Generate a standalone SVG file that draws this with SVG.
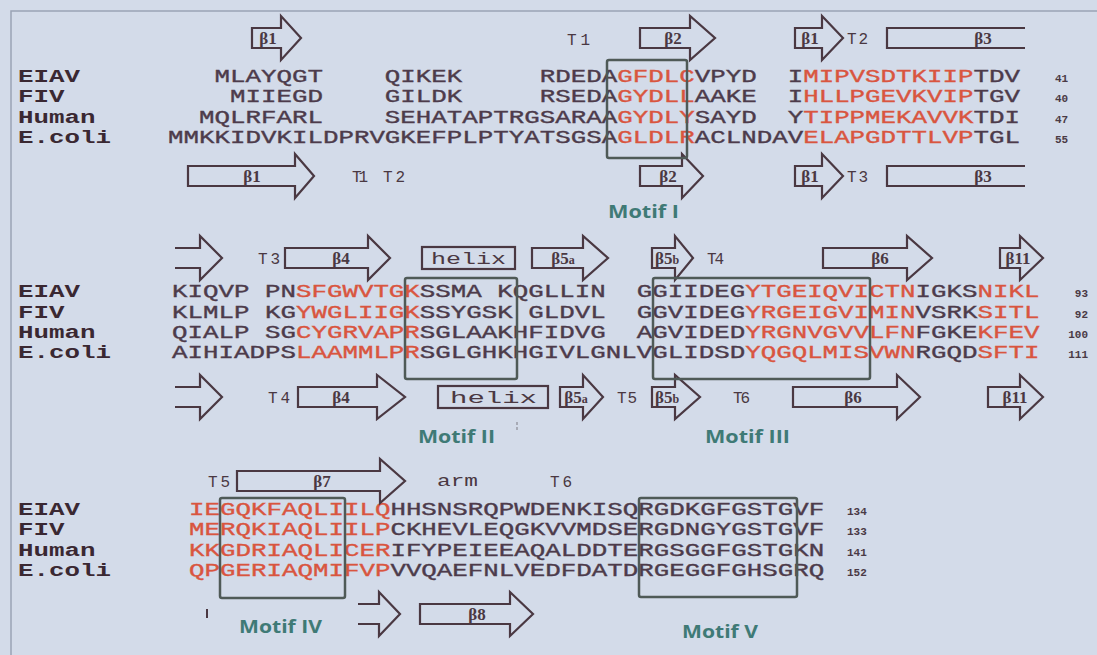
<svg xmlns="http://www.w3.org/2000/svg" width="1097" height="655" viewBox="0 0 1097 655">
<style>
.seq{font-family:"Liberation Mono","DejaVu Sans Mono",monospace;font-size:17.5px;fill:#4d3b4b;stroke:#4d3b4b;stroke-width:0.35}
.r{fill:#d9553f;stroke:#d9553f}
.lab{font-family:"Liberation Mono","DejaVu Sans Mono",monospace;font-weight:bold;font-size:17.5px;fill:#3a2832}
.num{font-family:"Liberation Mono","DejaVu Sans Mono",monospace;font-weight:bold;font-size:11px;fill:#4a3a45}
.ss{fill:none;stroke:#4a3842;stroke-width:2.2}
.bl{font-family:"Liberation Serif","DejaVu Serif",serif;font-weight:bold;font-size:17px;fill:#4a3842;text-anchor:middle}
.t{font-family:"Liberation Mono","DejaVu Sans Mono",monospace;font-size:16px;fill:#4a3842}
.box{fill:none;stroke:#4f5a57;stroke-width:2.5}
.motif{font-family:"Open Sans","Liberation Sans",sans-serif;font-weight:700;font-size:18px;fill:#3f7a76}
</style>
<rect width="1097" height="655" fill="#d3dbe9"/>
<path d="M11 655 V11 H1097" fill="none" stroke="#9ba4b5" stroke-width="1.5"/>

<g id="row-labels">
<g class="lab" transform="translate(18 0) scale(1.47619 1)">
<text y="82">EIAV</text><text y="102">FIV</text><text y="123">Human</text><text y="143">E.coli</text>
<text y="297">EIAV</text><text y="318">FIV</text><text y="338">Human</text><text y="358">E.coli</text>
<text y="515">EIAV</text><text y="535">FIV</text><text y="556">Human</text><text y="576">E.coli</text>
</g>
</g>

<g id="block1">
<g class="seq" transform="translate(168 0) scale(1.47619 1)">
<text xml:space="preserve" y="82">   MLAYQGT    QIKEK     RDEDA<tspan class="r">GFDLC</tspan>VPYD  I<tspan class="r">MIPVSDTKIIP</tspan>TDV</text>
<text xml:space="preserve" y="102">    MIIEGD    GILDK     RSEDA<tspan class="r">GYDLL</tspan>AAKE  I<tspan class="r">HLLPGEVKVIP</tspan>TGV</text>
<text xml:space="preserve" y="123">  MQLRFARL    SEHATAPTRGSARAA<tspan class="r">GYDLY</tspan>SAYD  Y<tspan class="r">TIPPMEKAVVK</tspan>TDI</text>
<text y="143">MMKKIDVKILDPRVGKEFPLPTYATSGSA<tspan class="r">GLDLR</tspan>ACLNDAV<tspan class="r">ELAPGDTTLVP</tspan>TGL</text>
</g>
<g class="num"><text x="1055" y="82">41</text><text x="1055" y="102">40</text><text x="1055" y="123">47</text><text x="1055" y="143">55</text></g>
<g id="ss1-top">
<path class="ss" d="M252 28 H281 V16 L301 38 L281 60 V48 H252 Z"/><text class="bl" x="268" y="44">β1</text>
<text class="t" x="567" y="45" textLength="23">T1</text>
<path class="ss" d="M640 28 H690 V16 L715 38 L690 60 V48 H640 Z"/><text class="bl" x="673" y="44">β2</text>
<path class="ss" d="M795 28 H822 V16 L843 38 L822 60 V48 H795 Z"/><text class="bl" x="810" y="44">β1</text>
<text class="t" x="847" y="44" textLength="21">T2</text>
<path class="ss" d="M1025 28 H887 V48 H1025"/><text class="bl" x="983" y="44">β3</text>
</g>
<g id="ss1-bottom">
<path class="ss" d="M188 166 H295 V154 L314 176 L295 198 V186 H188 Z"/><text class="bl" x="252" y="182">β1</text>
<text class="t" x="352" y="182" textLength="16">T1</text>
<text class="t" x="383" y="182" textLength="22">T2</text>
<path class="ss" d="M640 166 H682 V154 L703 176 L682 198 V186 H640 Z"/><text class="bl" x="668" y="182">β2</text>
<path class="ss" d="M795 166 H822 V154 L843 176 L822 198 V186 H795 Z"/><text class="bl" x="810" y="182">β1</text>
<text class="t" x="847" y="182" textLength="21">T3</text>
<path class="ss" d="M1025 166 H887 V186 H1025"/><text class="bl" x="983" y="182">β3</text>
</g>
<g id="motif1"><rect class="box" x="607" y="60" width="80" height="98" rx="2"/>
<text class="motif" x="608" y="218" textLength="71" lengthAdjust="spacingAndGlyphs">Motif I</text></g>
</g>

<g id="block2">
<g class="seq" transform="translate(172 0) scale(1.47619 1)">
<text xml:space="preserve" y="297">KIQVP PN<tspan class="r">SFGWVTGK</tspan>SSMA KQGLLIN  GGIIDEG<tspan class="r">YTGEIQVICTN</tspan>IGKS<tspan class="r">NIKL</tspan></text>
<text xml:space="preserve" y="318">KLMLP KG<tspan class="r">YWGLIIGK</tspan>SSYGSK GLDVL  GGVIDEG<tspan class="r">YRGEIGVIMIN</tspan>VSRK<tspan class="r">SITL</tspan></text>
<text xml:space="preserve" y="338">QIALP SG<tspan class="r">CYGRVAPR</tspan>SGLAAKHFIDVG  AGVIDED<tspan class="r">YRGNVGVVLFN</tspan>FGKE<tspan class="r">KFEV</tspan></text>
<text y="358">AIHIADPS<tspan class="r">LAAMMLPR</tspan>SGLGHKHGIVLGNLVGLIDSD<tspan class="r">YQGQLMISVWN</tspan>RGQD<tspan class="r">SFTI</tspan></text>
</g>
<g class="num" text-anchor="end"><text x="1088" y="297">93</text><text x="1088" y="318">92</text><text x="1088" y="338">100</text><text x="1088" y="358">111</text></g>
<g id="ss2-top">
<path class="ss" d="M175 248 H200 V236 L222 258 L200 280 V268 H175"/>
<text class="t" x="258" y="264" textLength="22">T3</text>
<path class="ss" d="M285 248 H368 V236 L390 258 L368 280 V268 H285 Z"/><text class="bl" x="341" y="264">β4</text>
<rect class="ss" x="422" y="247" width="93" height="22"/>
<text class="t" x="431" y="264" textLength="75" lengthAdjust="spacingAndGlyphs">helix</text>
<path class="ss" d="M532 248 H583 V236 L608 258 L583 280 V268 H532 Z"/><text class="bl" x="563" y="264">β5<tspan font-size="12">a</tspan></text>
<path class="ss" d="M652 248 H675 V236 L693 258 L675 280 V268 H652 Z"/><text class="bl" x="667" y="264">β5<tspan font-size="12">b</tspan></text>
<text class="t" x="707" y="264" textLength="17">T4</text>
<path class="ss" d="M823 248 H907 V236 L932 258 L907 280 V268 H823 Z"/><text class="bl" x="880" y="264">β6</text>
<path class="ss" d="M1000 248 H1020 V236 L1043 258 L1020 280 V268 H1000 Z"/><text class="bl" x="1018" y="264">β11</text>
</g>
<g id="ss2-bottom">
<path class="ss" d="M175 387 H200 V375 L222 397 L200 419 V407 H175"/>
<text class="t" x="268" y="403" textLength="22">T4</text>
<path class="ss" d="M298 387 H377 V375 L405 397 L377 419 V407 H298 Z"/><text class="bl" x="341" y="403">β4</text>
<rect class="ss" x="438" y="386" width="110" height="22"/>
<text class="t" x="450" y="403" textLength="87" lengthAdjust="spacingAndGlyphs">helix</text>
<path class="ss" d="M560 387 H583 V375 L603 397 L583 419 V407 H560 Z"/><text class="bl" x="576" y="403">β5<tspan font-size="12">a</tspan></text>
<text class="t" x="617" y="403" textLength="20">T5</text>
<path class="ss" d="M652 387 H675 V375 L700 397 L675 419 V407 H652 Z"/><text class="bl" x="667" y="403">β5<tspan font-size="12">b</tspan></text>
<text class="t" x="733" y="403" textLength="17">T6</text>
<path class="ss" d="M793 387 H897 V375 L920 397 L897 419 V407 H793 Z"/><text class="bl" x="853" y="403">β6</text>
<path class="ss" d="M988 387 H1020 V375 L1043 397 L1020 419 V407 H988 Z"/><text class="bl" x="1015" y="403">β11</text>
</g>
<g id="motif2"><rect class="box" x="405" y="278" width="112" height="101" rx="2"/>
<text class="motif" x="418" y="443" textLength="77" lengthAdjust="spacingAndGlyphs">Motif II</text></g>
<g id="motif3"><rect class="box" x="653" y="278" width="217" height="101" rx="2"/>
<text class="motif" x="705" y="443" textLength="85" lengthAdjust="spacingAndGlyphs">Motif III</text></g>
<line x1="517" y1="422" x2="517" y2="432" stroke="#8a8a95" stroke-width="1.2" stroke-dasharray="3 2"/>
</g>

<g id="block3">
<g class="seq" transform="translate(189 0) scale(1.47619 1)">
<text y="515"><tspan class="r">IEGQKFAQLIILQ</tspan>HHSNSRQPWDENKISQRGDKGFGSTGVF</text>
<text y="535"><tspan class="r">MERQKIAQLIILP</tspan>CKHEVLEQGKVVMDSERGDNGYGSTGVF</text>
<text y="556"><tspan class="r">KKGDRIAQLICER</tspan>IFYPEIEEAQALDDTERGSGGFGSTGKN</text>
<text y="576"><tspan class="r">QPGERIAQMIFVP</tspan>VVQAEFNLVEDFDATDRGEGGFGHSGRQ</text>
</g>
<g class="num"><text x="847" y="515">134</text><text x="847" y="535">133</text><text x="847" y="556">141</text><text x="847" y="576">152</text></g>
<g id="ss3-top">
<text class="t" x="208" y="487" textLength="22">T5</text>
<path class="ss" d="M237 471 H380 V459 L405 481 L380 503 V491 H237 Z"/><text class="bl" x="322" y="487">β7</text>
<text class="t" x="437" y="486" textLength="41" lengthAdjust="spacingAndGlyphs">arm</text>
<text class="t" x="550" y="487" textLength="22">T6</text>
</g>
<g id="ss3-bottom">
<path class="ss" d="M358 604 H379 V592 L400 614 L379 636 V624 H358"/>
<path class="ss" d="M420 604 H510 V592 L533 614 L510 636 V624 H420 Z"/><text class="bl" x="477" y="620">β8</text>
</g>
<line x1="207" y1="609" x2="207" y2="618" stroke="#4a3842" stroke-width="2"/>
<g id="motif4"><rect class="box" x="220" y="498" width="125" height="100" rx="2"/>
<text class="motif" x="239" y="633" textLength="83" lengthAdjust="spacingAndGlyphs">Motif IV</text></g>
<g id="motif5"><rect class="box" x="639" y="498" width="158" height="99" rx="2"/>
<text class="motif" x="682" y="638" textLength="76" lengthAdjust="spacingAndGlyphs">Motif V</text></g>
</g>
</svg>
